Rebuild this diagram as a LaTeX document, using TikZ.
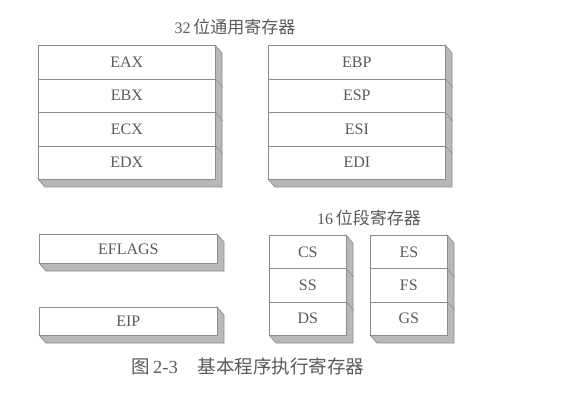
\documentclass[tikz,border=0pt]{standalone}
\usepackage{fontspec}
\setmainfont{Liberation Serif}
\newfontfamily\cjk{Noto Sans CJK SC}
\definecolor{linec}{HTML}{8C8C8C}
\definecolor{textc}{HTML}{5A5A5A}
\definecolor{sidec}{HTML}{B8B8B8}
\newcommand\slabfaces[4]{%
  \filldraw[draw=linec, fill=sidec, line width=0.7pt] (#3,#2) -- (#3+7,#2+8) -- (#3+7,#4+8) -- (#1+7,#4+8) -- (#1,#4) -- (#3,#4) -- cycle;}
\begin{document}
\begin{tikzpicture}[x=1pt, y=-1pt,
  reg/.style={draw=linec, fill=white, line width=0.7pt, inner sep=0pt, text=textc,
    font=\fontsize{16}{16}\selectfont, anchor=north west},
  wide/.style={reg, minimum width=177pt, minimum height=33.5pt},
  seg/.style={reg, minimum width=77pt, minimum height=33.33pt},
  lbl/.style={text=textc, font=\fontsize{16}{17}\selectfont, inner sep=0pt},
  div/.style={draw=linec, line width=0.6pt}]
\useasboundingbox (0,0) rectangle (581,402);
\fill[white] (0,0) rectangle (581,402);

% titles
\node[lbl] (t32) at (235,27) {32\,{\fontsize{17}{17}\selectfont\cjk 位通用寄存器}};
\node[lbl] (t16) at (369,218) {16\,{\fontsize{17}{17}\selectfont\cjk 位段寄存器}};
\node[lbl, font=\fontsize{18.5}{19}\selectfont] (cap) at (248,366) {{\cjk 图}\,2-3\hspace{20pt}{\cjk 基本程序执行寄存器}};

% 32-bit general registers, left column
\slabfaces{38}{45}{215}{179}
\node[wide] (eax) at (38,45) {EAX};
\node[wide] (ebx) at (38,78.5) {EBX};
\node[wide] (ecx) at (38,112) {ECX};
\node[wide] (edx) at (38,145.5) {EDX};
\foreach \n in {eax,ebx,ecx} \draw[div] (\n.south east) -- ++(7,8);

% right column
\slabfaces{268}{45}{445}{179}
\node[wide] (ebp) at (268,45) {EBP};
\node[wide] (esp) at (268,78.5) {ESP};
\node[wide] (esi) at (268,112) {ESI};
\node[wide] (edi) at (268,145.5) {EDI};
\foreach \n in {ebp,esp,esi} \draw[div] (\n.south east) -- ++(7,8);

% EFLAGS and EIP
\slabfaces{39}{234}{217}{263}
\node[reg, minimum width=178pt, minimum height=29pt] (eflags) at (39,234) {EFLAGS};
\slabfaces{39}{307}{217}{335}
\node[reg, minimum width=178pt, minimum height=28pt] (eip) at (39,307) {EIP};

% 16-bit segment registers
\slabfaces{269}{235}{346}{335}
\node[seg] (cs) at (269,235) {CS};
\node[seg] (ss) at (269,268.33) {SS};
\node[seg] (ds) at (269,301.67) {DS};
\foreach \n in {cs,ss} \draw[div] (\n.south east) -- ++(7,8);

\slabfaces{370}{235}{447}{335}
\node[seg] (es) at (370,235) {ES};
\node[seg] (fs) at (370,268.33) {FS};
\node[seg] (gs) at (370,301.67) {GS};
\foreach \n in {es,fs} \draw[div] (\n.south east) -- ++(7,8);
\end{tikzpicture}
\end{document}
